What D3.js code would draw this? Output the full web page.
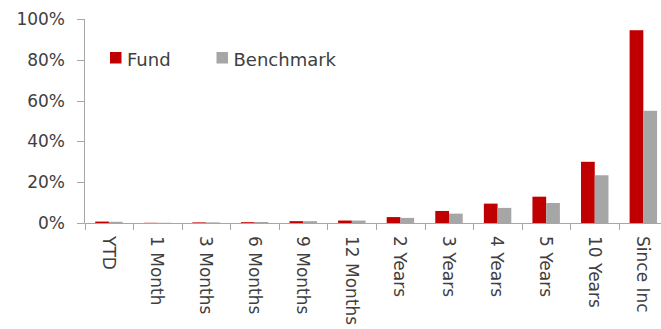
<!DOCTYPE html>
<html>
<head>
<meta charset="utf-8">
<script src="https://cdn.jsdelivr.net/npm/d3@7"></script>
<style>
  html, body { margin: 0; padding: 0; background: #fff; }
  svg { display: block; }
  text { font-family: "DejaVu Sans", sans-serif; fill: #404040; }
</style>
</head>
<body>
<svg id="chart" width="661" height="329"></svg>
<script>
// Cumulative performance, in percent
const categories = ["YTD", "1 Month", "3 Months", "6 Months", "9 Months", "12 Months",
                    "2 Years", "3 Years", "4 Years", "5 Years", "10 Years", "Since Inc"];
const fundValues      = [0.7, 0.1, 0.3, 0.4, 0.9, 1.2, 2.9, 5.9, 9.5, 12.9, 30.0, 94.5];
const benchmarkValues = [0.6, 0.1, 0.3, 0.5, 0.9, 1.2, 2.5, 4.6, 7.4,  9.8, 23.4, 55.0];
const seriesNames = ["Fund", "Benchmark"];
const seriesColors = ["#C00000", "#A6A6A6"];
const yTicks = [0, 20, 40, 60, 80, 100];

const svg = d3.select("#chart");
const axisColor = "#A6A6A6";

const x = d3.scaleBand().domain(categories).range([84.5, 667.5]).padding(0);
const xs = d3.scaleBand().domain(seriesNames)
  .range([x.bandwidth() * 0.22, x.bandwidth() * 0.785]).padding(0);
const y = d3.scaleLinear().domain([0, 100]).range([223, 19]);
const color = d3.scaleOrdinal().domain(seriesNames).range(seriesColors);

const rows = categories.map((c, i) => ({ cat: c, vals: [fundValues[i], benchmarkValues[i]] }));

// Bars
const groups = svg.append("g").selectAll("g").data(rows).join("g")
  .attr("transform", d => `translate(${x(d.cat)},0)`);
groups.selectAll("rect")
  .data(d => seriesNames.map((s, j) => ({ s, v: d.vals[j] })))
  .join("rect")
  .attr("x", d => xs(d.s))
  .attr("width", xs.bandwidth())
  .attr("y", d => y(d.v))
  .attr("height", d => y(0) - y(d.v))
  .attr("fill", d => color(d.s));

// Y axis
const yAxis = svg.append("g");
yAxis.append("line")
  .attr("x1", 84.5).attr("x2", 84.5)
  .attr("y1", y(100)).attr("y2", y(0))
  .attr("stroke", axisColor).attr("stroke-width", 1);
yAxis.selectAll("line.tick").data(yTicks).join("line")
  .attr("class", "tick")
  .attr("x1", 77).attr("x2", 84.5)
  .attr("y1", d => Math.round(y(d)) + 0.5).attr("y2", d => Math.round(y(d)) + 0.5)
  .attr("stroke", axisColor);
yAxis.selectAll("text").data(yTicks).join("text")
  .attr("x", 65).attr("y", d => y(d))
  .attr("text-anchor", "end").attr("dominant-baseline", "central")
  .style("font-size", "17px")
  .text(d => d + "%");

// X axis
const xAxis = svg.append("g");
xAxis.append("line")
  .attr("x1", 84.5).attr("x2", 667.5)
  .attr("y1", y(0) + 0.5).attr("y2", y(0) + 0.5)
  .attr("stroke", axisColor);
const boundaries = categories.map(c => x(c)).concat([x.range()[1]]);
xAxis.selectAll("line.tick").data(boundaries).join("line")
  .attr("class", "tick")
  .attr("x1", d => Math.round(d) + 0.5).attr("x2", d => Math.round(d) + 0.5)
  .attr("y1", y(0)).attr("y2", y(0) + 7)
  .attr("stroke", axisColor);
xAxis.selectAll("text").data(categories).join("text")
  .attr("transform", d => `translate(${x(d) + x.bandwidth() / 2},236) rotate(90)`)
  .attr("text-anchor", "start").attr("dominant-baseline", "central")
  .style("font-size", "17px")
  .text(d => d);

// Legend
const legend = svg.append("g");
const legendX = [110, 216.5];
seriesNames.forEach((s, i) => {
  legend.append("rect")
    .attr("x", legendX[i]).attr("y", 52)
    .attr("width", 11.5).attr("height", 11.5)
    .attr("fill", color(s));
  legend.append("text")
    .attr("x", legendX[i] + 17).attr("y", 65.5)
    .style("font-size", "18px")
    .text(s);
});
</script>
</body>
</html>
